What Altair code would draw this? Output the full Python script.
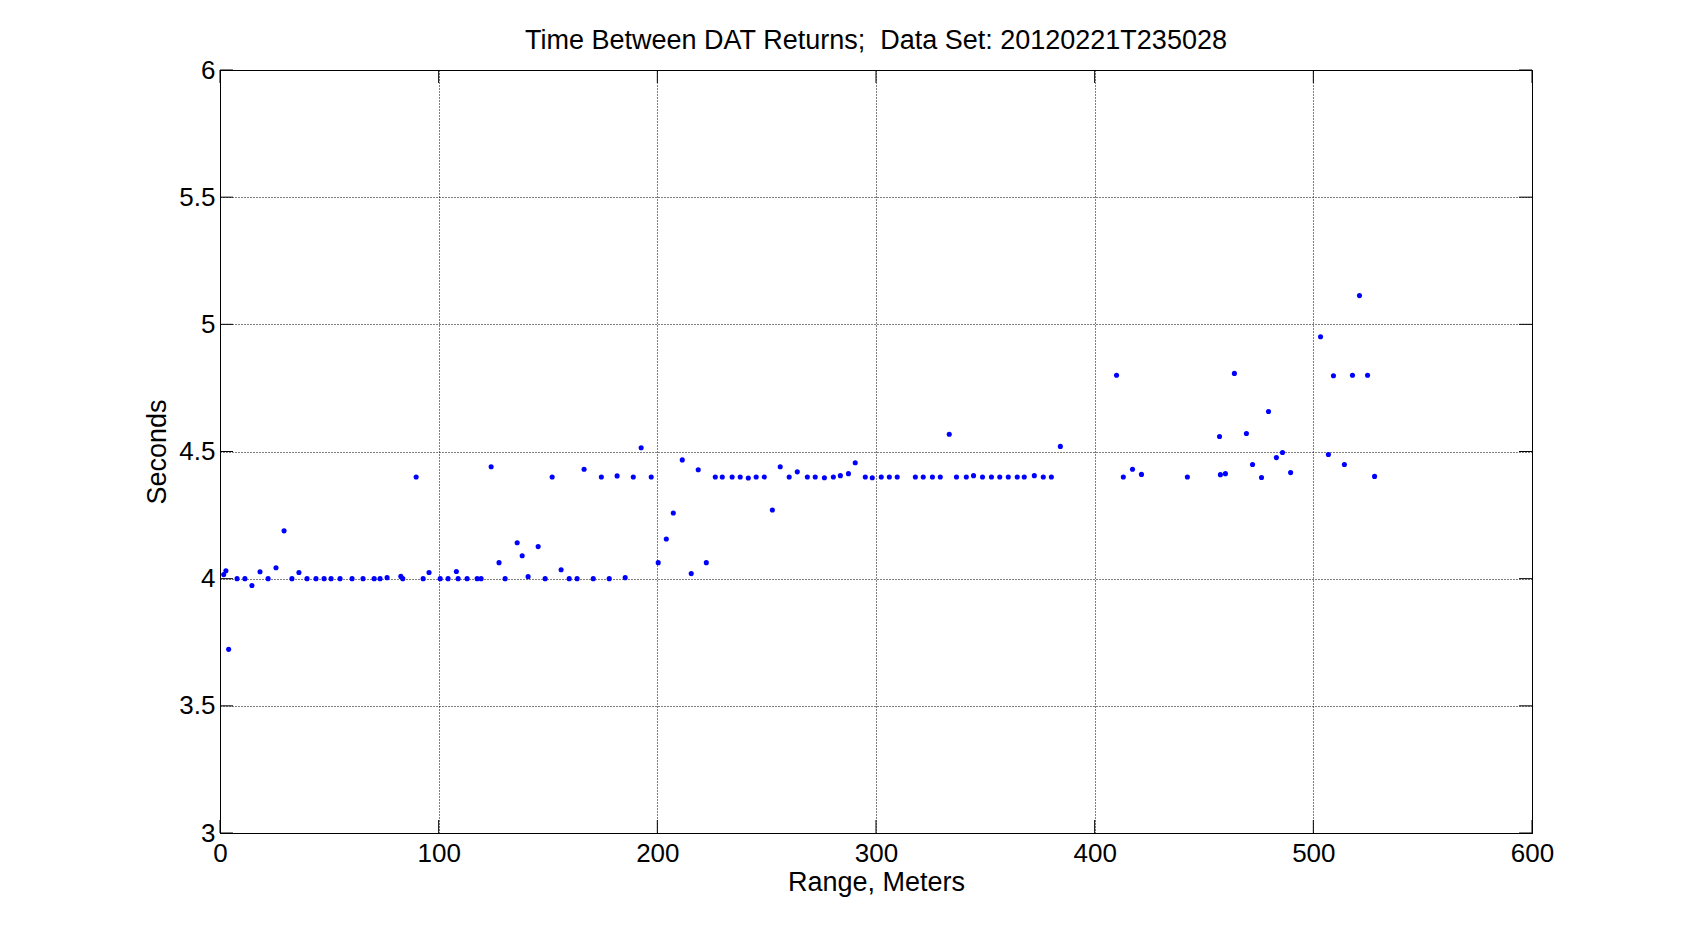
import altair as alt
import pandas as pd

range_m = [1.7, 2.7, 3.95, 7.8, 11.4, 14.6, 18.3, 22.0, 25.6, 29.3, 32.9, 36.1, 39.8, 43.9, 47.6, 50.8,
           54.9, 60.4, 65.4, 70.5, 73.2, 76.4, 82.7, 83.6, 89.7, 92.9, 95.6, 100.7, 104.3, 108.1, 108.9,
           113.0, 117.6, 119.4, 124.0, 127.6, 130.4, 135.9, 138.2, 140.9, 145.5, 148.7, 151.9, 156.0,
           159.7, 163.3, 166.5, 170.7, 174.4, 178.0, 181.6, 185.3, 189.0, 192.6, 197.2, 200.4, 204.1,
           207.3, 211.4, 215.5, 218.7, 222.4, 226.5, 229.7, 234.2, 237.9, 241.6, 245.2, 248.9, 252.6,
           256.2, 260.3, 264.0, 268.6, 272.2, 276.4, 280.5, 283.7, 287.4, 290.5, 295.1, 298.3, 302.4,
           306.1, 309.7, 318.0, 321.6, 325.8, 329.4, 333.5, 336.8, 341.3, 344.6, 348.7, 352.8, 356.6,
           360.5, 364.6, 367.8, 372.4, 376.5, 380.2, 384.3, 410.0, 413.1, 417.3, 421.4, 442.4, 457.1,
           457.5, 459.8, 463.9, 469.4, 472.2, 476.3, 479.5, 483.1, 485.9, 489.6, 503.3, 506.9, 509.2,
           514.2, 517.9, 521.1, 524.8, 528.0]
seconds = [4.016, 4.031, 3.722, 4.0, 4.0, 3.973, 4.027, 4.0, 4.043, 4.188, 4.0, 4.024, 4.0, 4.0, 4.0, 4.0,
           4.0, 4.0, 4.0, 4.0, 4.0, 4.004, 4.009, 4.0, 4.4, 4.0, 4.024, 4.0, 4.0, 4.028, 4.0,
           4.0, 4.0, 4.0, 4.44, 4.063, 4.0, 4.141, 4.09, 4.008, 4.126, 4.0, 4.4, 4.035,
           4.0, 4.0, 4.43, 4.0, 4.4, 4.0, 4.404, 4.004, 4.4, 4.515, 4.4, 4.063, 4.156,
           4.258, 4.467, 4.02, 4.428, 4.063, 4.4, 4.4, 4.4, 4.4, 4.396, 4.4, 4.4, 4.27,
           4.44, 4.4, 4.42, 4.4, 4.4, 4.397, 4.4, 4.405, 4.413, 4.456, 4.4, 4.397, 4.4,
           4.4, 4.4, 4.4, 4.4, 4.4, 4.4, 4.568, 4.4, 4.4, 4.405, 4.4, 4.4, 4.4,
           4.4, 4.4, 4.4, 4.405, 4.4, 4.4, 4.52, 4.8, 4.4, 4.43, 4.41, 4.4, 4.559,
           4.409, 4.413, 4.807, 4.571, 4.449, 4.398, 4.657, 4.476, 4.496, 4.417, 4.951, 4.488, 4.798,
           4.449, 4.8, 5.113, 4.8, 4.402]

x_ticks = [0, 100, 200, 300, 400, 500, 600]
y_ticks = [3, 3.5, 4, 4.5, 5, 5.5, 6]

W, H = 1312, 763
TL = 13
FONT = "Liberation Sans"

df = pd.DataFrame({"range": range_m, "sec": seconds})
xt = pd.DataFrame({"v": x_ticks})
yt = pd.DataFrame({"v": y_ticks})

xscale = alt.Scale(domain=[0, 600], nice=False, zero=False)
yscale = alt.Scale(domain=[3, 6], nice=False, zero=False)

xaxis = alt.Axis(values=x_ticks, title="Range, Meters", grid=True, ticks=False, tickSize=0,
                 labelPadding=7, titlePadding=3, format="d", labelFlush=False)
yaxis = alt.Axis(values=y_ticks, title="Seconds", grid=True, ticks=False, tickSize=0,
                 labelPadding=5, titlePadding=7, labelFlush=False,
                 labelExpr="datum.value == 3 ? '3' : datum.value == 4 ? '4' : datum.value == 5 ? '5' : datum.value == 6 ? '6' : format(datum.value, '.1f')")

points = alt.Chart(df).mark_point(filled=True, shape="circle", size=26, color="#0000FF", opacity=1).encode(
    x=alt.X("range:Q", scale=xscale, axis=xaxis),
    y=alt.Y("sec:Q", scale=yscale, axis=yaxis),
)

ytick_left = alt.Chart(yt).mark_rule(color="black", strokeWidth=1).encode(
    y=alt.Y("v:Q", scale=yscale, axis=yaxis), x=alt.value(0), x2=alt.value(TL))
ytick_right = alt.Chart(yt).mark_rule(color="black", strokeWidth=1).encode(
    y=alt.Y("v:Q", scale=yscale, axis=yaxis), x=alt.value(W - TL), x2=alt.value(W))
xtick_bottom = alt.Chart(xt).mark_rule(color="black", strokeWidth=1).encode(
    x=alt.X("v:Q", scale=xscale, axis=xaxis), y=alt.value(H - TL), y2=alt.value(H))
xtick_top = alt.Chart(xt).mark_rule(color="black", strokeWidth=1).encode(
    x=alt.X("v:Q", scale=xscale, axis=xaxis), y=alt.value(0), y2=alt.value(TL))

chart = alt.layer(xtick_bottom, xtick_top, ytick_left, ytick_right, points).properties(
    width=W, height=H,
    background="white",
    title=alt.TitleParams("Time Between DAT Returns; \u00a0Data Set: 20120221T235028",
                          font=FONT, fontSize=27, fontWeight="normal", color="black", offset=2),
    autosize=alt.AutoSizeParams(type="none"),
    padding={"left": 212, "top": 62, "right": 150, "bottom": 95},
).configure_view(stroke="black", strokeWidth=1).configure_axis(
    labelFont=FONT, labelFontSize=26, labelColor="black",
    titleFont=FONT, titleFontSize=27, titleFontWeight="normal", titleColor="black",
    domainColor="black", domainWidth=1,
    gridColor="black", gridOpacity=1, gridDash=[1, 2], gridWidth=1,
)

chart.save("out.html", embed_options={"renderer": "svg", "actions": False})
